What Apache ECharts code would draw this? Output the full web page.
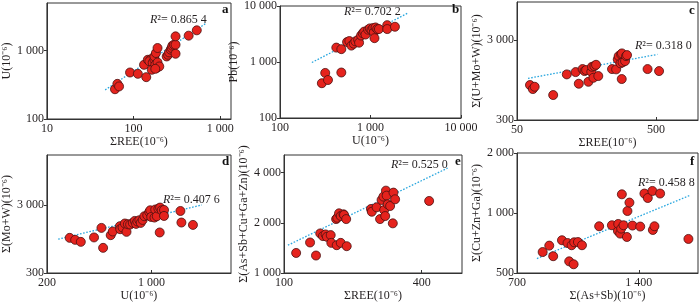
<!DOCTYPE html>
<html><head><meta charset="utf-8">
<script src="https://cdn.jsdelivr.net/npm/echarts@6/dist/echarts.min.js"></script>
<style>html,body{margin:0;padding:0;background:#fff}#c{width:700px;height:303px}</style>
</head><body><div id="c"></div>
<script>
// ---- data ----
const aX = [61,65,68,91,112,140,132,146,158,152,166,174,162,174,178,184,189,181,189,198,178,241,250,257,268,275,280,292,305,305,305,432,536];
const aY = [273,327,300,480,459,410,622,737,750,701,666,737,526,824,622,557,673,925,1096,588,543,824,873,944,1035,1096,1185,1225,1225,903,1623,1662,1990];
const bX = [290,316,339,476,419,476,551,584,615,653,681,730,748,787,822,851,880,942,984,1026,1071,1089,1107,1137,1186,1238,1531,1531,1862];
const bY = [418,638,477,649,1808,1696,2274,2366,1963,2125,2335,2494,2213,2972,3258,3487,3093,3778,3981,3724,4034,3390,2667,4142,3873,3873,4550,3873,4259];
const cX = [62,65,67,91,114,132,139,148,153,157,163,171,173,177,180,185,192,241,258,265,269,280,284,277,287,299,304,309,283,434,525];
const cY = [822,732,782,616,1117,1194,853,1302,1229,1265,903,1205,1391,1013,1420,1473,1065,1302,1291,1721,1893,1987,2046,1535,1578,1638,1893,1948,977,1302,1229];
const dX = [284,309,337,413,463,475,534,551,615,618,641,664,681,695,720,750,773,789,805,830,847,873,896,937,966,981,996,1047,1059,1085,1112,1142,1170,1213,1213,1135,1561,1585,1893];
const dY = [986,922,861,1000,1381,703,1080,1223,1463,1322,1400,1603,1208,1564,1549,1636,1750,1582,1714,1791,1636,1808,2050,2118,2370,2508,2001,1960,2570,2050,2655,2748,2508,2535,2070,1183,2449,1656,1528];
const eX = [113,130,138,144,148,152,154,160,161,170,177,188,169,171,174,177,182,183,187,240,242,254,263,267,272,274,277,279,281,284,291,299,301,306,431];
const eY = [1319,1524,1273,1727,1664,1703,1648,1687,1516,1468,1516,1448,2105,2143,2279,2196,2249,2227,2105,2420,2330,2477,2105,2741,2870,2386,2196,3118,2911,2582,2522,1985,3034,2767,2704];
const fX = [810,841,860,904,933,942,955,966,969,990,1013,1117,1201,1243,1245,1259,1266,1271,1283,1308,1312,1327,1350,1411,1445,1473,1512,1516,1530,1580,1856];
const fY = [637,686,607,730,707,572,689,553,713,715,689,858,868,812,881,788,835,1241,868,758,1023,1128,865,855,1252,1189,1290,822,858,1252,741];

const aTrendX = [47,677],  aTrendY = [267,2495];
const bTrendX = [225,2624], bTrendY = [980,7556];
const cTrendX = [60,511],  cTrendY = [996,1987];
const dTrendX = [238,2172], dTrendY = [944,3000];
const eTrendX = [104,519], eTrendY = [1468,4255];
const fTrendX = [784,1874], fTrendY = [591,1227];

const aXTicks = [10,100,1000], aYTicks = [100,1000];
const bXTicks = [100,1000,10000], bYTicks = [100,1000,10000];
const cXTicks = [50,500], cYTicks = [300,3000];
const dXTicks = [200,1000], dYTicks = [300,3000];
const eXTicks = [100,400], eYTicks = [1000,2000,4000];
const fXTicks = [700,1400], fYTicks = [500,1000,2000];

const r2Labels = ['0.865 4','0.702 2','0.318 0','0.407 6','0.525 0','0.458 8'];
const panelLetters = ['a','b','c','d','e','f'];
const xNames = ['ΣREE(10⁻⁶)','U(10⁻⁶)','ΣREE(10⁻⁶)','U(10⁻⁶)','ΣREE(10⁻⁶)','Σ(As+Sb)(10⁻⁶)'];
const yNames = ['U(10⁻⁶)','Pb(10⁻⁶)','Σ(U+Mo+W)(10⁻⁶)','Σ(Mo+W)(10⁻⁶)','Σ(As+Sb+Cu+Ga+Zn)(10⁻⁶)','Σ(Cu+Zn+Ga)(10⁻⁶)'];

// ---- layout ----
const FONT = '"Liberation Serif","Times New Roman",serif';
const TXT = '#231f20';
const panels = [
  {x:aX,y:aY,tx:aTrendX,ty:aTrendY,xt:aXTicks,yt:aYTicks,xr:[10,1330],yr:[100,5000],g:{left:42,top:3,width:189,height:116},yGap:30,lp:[222,3],rp:[150,14]},
  {x:bX,y:bY,tx:bTrendX,ty:bTrendY,xt:bXTicks,yt:bYTicks,xr:[100,10000],yr:[100,10000],g:{left:280,top:3,width:181,height:115},yGap:32,lp:[452,3],rp:[344,6]},
  {x:cX,y:cY,tx:cTrendX,ty:cTrendY,xt:cXTicks,yt:cYTicks,xr:[50,1000],yr:[300,9000],g:{left:517,top:2,width:181,height:118},yGap:31,lp:[689,4],rp:[635,40]},
  {x:dX,y:dY,tx:dTrendX,ty:dTrendY,xt:dXTicks,yt:dYTicks,xr:[200,3400],yr:[300,16300],g:{left:43,top:155,width:188,height:119},yGap:25,lp:[222,155],rp:[163,194]},
  {x:eX,y:eY,tx:eTrendX,ty:eTrendY,xt:eXTicks,yt:eYTicks,xr:[100,600],yr:[1000,5100],g:{left:284,top:155,width:178,height:118},yGap:33,lp:[455,155],rp:[391,159]},
  {x:fX,y:fY,tx:fTrendX,ty:fTrendY,xt:fXTicks,yt:fYTicks,xr:[700,1960],yr:[500,2000],g:{left:517,top:153,width:181,height:120},yGap:31,lp:[690,155],rp:[638,177]}
];

const fmt = v => String(Math.round(v)).replace(/\B(?=(\d{3})+(?!\d))/g,' ');
const grid=[], xAxis=[], yAxis=[], series=[], graphic=[];
panels.forEach((p,i)=>{
  grid.push(Object.assign({show:true,borderColor:'#333',borderWidth:1,backgroundColor:'transparent'},p.g));
  const common = {gridIndex:i,type:'log',logBase:10,splitLine:{show:false},minorTick:{show:false},
    axisLine:{show:true,lineStyle:{color:'#333',width:1}},
    nameLocation:'middle',nameTextStyle:{fontFamily:FONT,fontSize:12,color:TXT}};
  xAxis.push(Object.assign({},common,{min:p.xr[0],max:p.xr[1],name:xNames[i],nameGap:17,
    axisTick:{show:true,inside:true,length:3,customValues:p.xt,lineStyle:{color:'#333'}},
    axisLabel:{customValues:p.xt,formatter:fmt,fontFamily:FONT,fontSize:12,color:TXT,margin:4}}));
  yAxis.push(Object.assign({},common,{min:p.yr[0],max:p.yr[1],name:yNames[i],nameGap:p.yGap,
    axisTick:{show:true,inside:false,length:3,customValues:p.yt,lineStyle:{color:'#333'}},
    axisLabel:{customValues:p.yt,formatter:fmt,fontFamily:FONT,fontSize:12,color:TXT,margin:3}}));
  series.push({type:'line',xAxisIndex:i,yAxisIndex:i,data:p.tx.map((v,k)=>[v,p.ty[k]]),symbol:'none',silent:true,
    lineStyle:{color:'#2aa7df',width:1.3,type:[1.6,1.6]},z:1});
  series.push({type:'scatter',xAxisIndex:i,yAxisIndex:i,data:p.x.map((v,k)=>[v,p.y[k]]),symbolSize:9,
    itemStyle:{color:'#e5231d',borderColor:'#4a1010',borderWidth:0.8,opacity:1},z:3});
  graphic.push({type:'text',left:p.lp[0],top:p.lp[1],style:{text:panelLetters[i],font:'bold 13px '+FONT,fill:'#111'}});
  graphic.push({type:'text',left:p.rp[0],top:p.rp[1],style:{text:'{i|R}{n|²= '+r2Labels[i]+'}',
    rich:{i:{fontFamily:FONT,fontSize:12,fontStyle:'italic',fill:TXT},n:{fontFamily:FONT,fontSize:12,fill:TXT}}}});
});

const chart = echarts.init(document.getElementById('c'),null,{renderer:'canvas'});
chart.setOption({animation:false,grid,xAxis,yAxis,series,graphic});
</script></body></html>
